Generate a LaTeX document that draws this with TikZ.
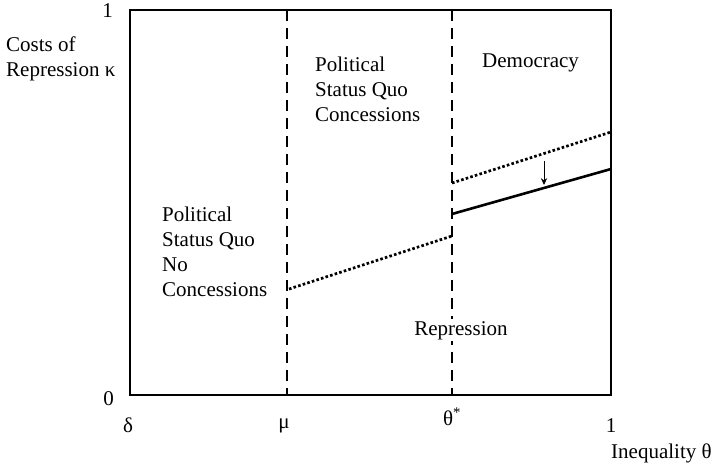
\documentclass[tikz,border=0pt]{standalone}
\usepackage{fontspec}
\setmainfont{Liberation Serif}
\usetikzlibrary{arrows.meta,positioning}

\begin{document}
\begin{tikzpicture}[x=1pt,y=-1pt]
\tikzset{
  lbl/.style={font=\fontsize{21}{25}\selectfont,inner sep=0pt},
  regionlbl/.style={lbl,align=left,anchor=north west},
  frame/.style={line width=2.9pt,line join=miter},
  boundary/.style={line width=2.7pt,dash pattern=on 11pt off 7pt},
  oldcut/.style={line width=2.7pt,dash pattern=on 2.6pt off 2.2pt},
  newcut/.style={line width=2.6pt},
  shiftarrow/.style={-{Stealth[length=2.4mm,width=2.2mm]},line width=0.9pt}
}
\useasboundingbox (0,0) rectangle (715,469);
% frame
\coordinate (o) at (130,395);
\coordinate (tl) at (130,10);
\coordinate (tr) at (611,10);
\coordinate (br) at (611,395);
\draw[frame] (o) -- (tl) -- (tr) -- (br) -- cycle;
% thresholds
\coordinate (mu_top) at (287,10);
\coordinate (mu_bot) at (287,395);
\coordinate (th_top) at (452,10);
\coordinate (th_bot) at (452,395);
\draw[boundary] (mu_top) -- (mu_bot);
\draw[boundary] (th_top) -- (th_bot);
% repression cut-offs
\coordinate (a0) at (289,289);
\coordinate (a1) at (452,236);
\coordinate (b0) at (452,183);
\coordinate (b1) at (611,132);
\coordinate (c0) at (452,214);
\coordinate (c1) at (611,169);
\draw[oldcut] (a0) -- (a1);
\draw[oldcut] (b0) -- (b1);
\draw[newcut] (c0) -- (c1);
\coordinate (s0) at (544,161);
\coordinate (s1) at (544,185);
\draw[shiftarrow] (s0) -- (s1);
% axis labels
\node[lbl,anchor=base east] (y_one) at (113,17) {1};
\node[lbl,anchor=base east] (y_zero) at (114,405) {0};
\node[lbl,align=left,anchor=north west] (y_name) at (6,37) {Costs of\\Repression κ};
\node[lbl,anchor=base] (x_delta) at (128,432) {δ};
\node[lbl,anchor=base] (x_mu) at (284,428) {μ};
\node[lbl,anchor=base] (x_theta) at (452,425) {θ\textsuperscript{*}};
\node[lbl,anchor=base] (x_one) at (611,432) {1};
\node[lbl,anchor=base west] (x_name) at (611,458) {Inequality θ};
% regions
\node[regionlbl] (r_noconc) at (162,207) {Political\\Status Quo\\No\\Concessions};
\node[regionlbl] (r_conc) at (315,57) {Political\\Status Quo\\Concessions};
\node[regionlbl] (r_demo) at (482,54) {Democracy};
\node[lbl,anchor=base,fill=white,inner sep=2pt] (r_rep) at (461,335) {Repression};
\end{tikzpicture}
\end{document}
